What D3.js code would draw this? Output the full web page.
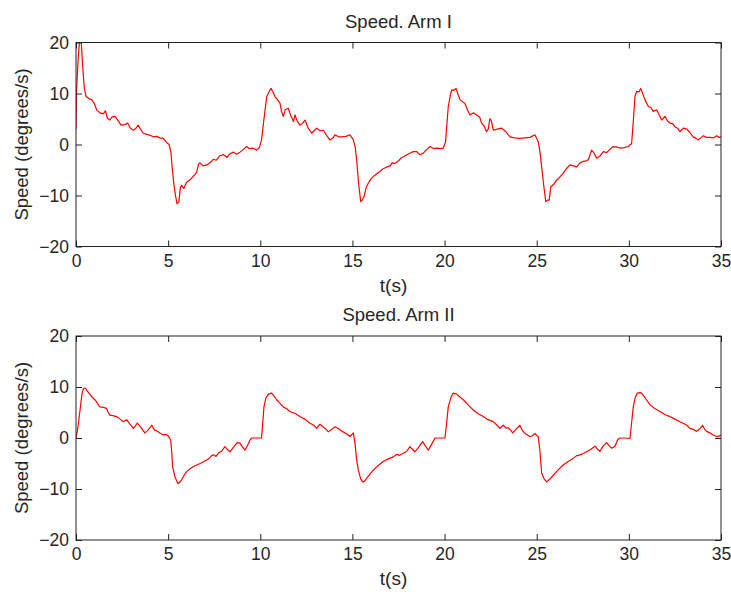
<!DOCTYPE html>
<html>
<head>
<meta charset="utf-8">
<script src="https://cdn.jsdelivr.net/npm/d3@7"></script>
<style>
  body { margin: 0; background: #fff; }
  svg { display: block; }
  text { font-family: "Liberation Sans", Arial, sans-serif; fill: #262626; }
</style>
</head>
<body>
<script>
// time (s) and speed (degrees/s)
const tArm1 = [0,0.03,0.12,0.2,0.28,0.36,0.45,0.55,0.7,0.85,1,1.12,1.3,1.48,1.6,1.7,1.84,1.95,2.12,2.3,2.45,2.66,2.8,2.95,3.11,3.25,3.38,3.5,3.65,3.85,4.02,4.2,4.38,4.55,4.74,4.92,5.05,5.15,5.22,5.3,5.4,5.48,5.58,5.66,5.73,5.85,6,6.15,6.3,6.45,6.55,6.65,6.73,6.9,7.1,7.3,7.45,7.6,7.81,8,8.2,8.36,8.55,8.7,8.9,9.1,9.26,9.4,9.6,9.8,9.95,10.07,10.2,10.35,10.5,10.58,10.7,10.8,10.95,11.07,11.15,11.25,11.35,11.52,11.65,11.8,11.88,12,12.15,12.3,12.43,12.6,12.79,12.95,13.06,13.25,13.42,13.6,13.78,13.95,14.05,14.25,14.42,14.65,14.87,15.05,15.15,15.23,15.33,15.45,15.55,15.63,15.75,15.86,16,16.13,16.3,16.49,16.65,16.86,17.05,17.15,17.31,17.5,17.65,17.76,17.95,18.12,18.3,18.49,18.65,18.85,19.05,19.21,19.4,19.57,19.75,19.93,20.05,20.2,20.32,20.39,20.5,20.62,20.75,20.84,21,21.1,21.25,21.38,21.55,21.74,21.9,22.01,22.15,22.28,22.37,22.46,22.55,22.64,22.85,23.1,23.3,23.55,23.8,24.09,24.35,24.63,24.9,25.08,25.18,25.27,25.38,25.49,25.6,25.68,25.76,25.9,26.08,26.25,26.44,26.6,26.8,27,27.17,27.35,27.53,27.7,27.8,27.98,28.1,28.25,28.45,28.61,28.8,28.95,29.15,29.35,29.52,29.75,29.97,30.15,30.25,30.33,30.42,30.55,30.64,30.75,30.87,31.05,31.2,31.32,31.5,31.65,31.78,31.96,32.1,32.23,32.38,32.5,32.65,32.77,32.95,33.15,33.3,33.49,33.65,33.77,33.9,34.04,34.2,34.4,34.6,34.76,34.9,35];
const speedArm1 = [3,10.5,17,20.8,20.5,15.5,11,9.4,9,8.8,8,6.8,6.2,6,6.6,5.2,4.8,5.4,5.5,4.6,3.8,3.9,4.2,3.2,2.8,3.2,3.8,3,2.2,2,1.8,1.5,1.6,1.3,1.2,0.4,0,-1.5,-4.5,-7.5,-10,-11.6,-11.3,-8.5,-8,-8.6,-7.4,-7,-6.5,-5.9,-5.4,-3.8,-3.6,-4.2,-4,-3.5,-2.9,-3.1,-2.2,-2,-2.5,-1.8,-1.5,-1.9,-1.5,-0.9,-0.4,-0.8,-0.7,-1.1,-0.6,0.9,5,9.4,10.5,11,10.2,9.4,8.7,8.1,6.5,5.5,6.8,7.1,5.7,4.5,5.8,4.6,3.8,4.2,4.8,3.2,2.2,2.8,3.2,2.7,2.8,1.8,0.9,1.3,1.9,1.5,1.5,1.6,1.9,0.9,-0.5,-3,-7.5,-11.2,-10.8,-10.2,-8.4,-7.6,-6.8,-6.3,-5.8,-5.3,-4.8,-4.4,-4.2,-3.6,-3.7,-3.2,-2.6,-2.4,-2,-1.7,-1.4,-1.4,-2,-1.7,-0.9,-0.4,-0.8,-0.7,-0.8,-0.7,0.5,7.4,9.8,10.7,10.6,11,9.6,8.8,8.3,8.1,6.7,5.8,6.2,5.8,5.4,4.2,3.6,2.5,3,5.1,4.5,2.8,3,3.2,2.6,1.5,1.3,1.2,1.3,1.4,1.9,0.6,-1.5,-4.4,-8,-11.2,-10.9,-10.9,-8.3,-7.9,-7,-6.4,-5.6,-4.8,-4,-4.2,-4.4,-3.6,-3.3,-3.2,-3,-1.1,-1.6,-2.7,-2.2,-1.4,-1.6,-1,-0.4,-0.5,-0.7,-0.6,-0.4,0.2,5,9.4,10.4,10.3,11,10,8.8,7.5,7.2,6.5,6.8,5.8,4.8,5.5,4.6,4.2,4.1,3.5,3.2,2.5,3.2,3,2.4,1.5,1.2,0.9,1.3,1.7,1.4,1.4,1.3,1.7,1.4,1.5];

const tArm2 = [0,0.1,0.22,0.32,0.4,0.5,0.58,0.72,0.85,1,1.12,1.22,1.3,1.48,1.66,1.75,1.84,2,2.2,2.4,2.57,2.75,2.95,3.11,3.22,3.33,3.5,3.74,3.9,4.11,4.25,4.38,4.55,4.74,4.9,5.01,5.1,5.14,5.2,5.24,5.37,5.52,5.62,5.73,5.85,6,6.2,6.37,6.55,6.73,6.9,7.09,7.25,7.35,7.45,7.6,7.75,7.9,8.08,8.2,8.36,8.55,8.75,8.9,9,9.17,9.3,9.44,9.53,9.8,10.07,10.2,10.3,10.44,10.62,10.75,10.89,11.05,11.25,11.45,11.61,11.9,12.15,12.45,12.7,12.9,13.06,13.24,13.4,13.55,13.69,13.85,14.05,14.25,14.5,14.7,14.87,15.05,15.14,15.22,15.32,15.45,15.56,15.65,15.77,15.95,16.13,16.4,16.67,16.95,17.22,17.4,17.55,17.76,17.95,18.12,18.25,18.39,18.6,18.81,18.95,19.12,19.3,19.48,19.75,20.02,20.1,20.2,20.35,20.47,20.66,20.85,21.02,21.3,21.56,21.8,22.1,22.35,22.64,22.85,23,23.18,23.32,23.45,23.6,23.7,23.9,24.09,24.2,24.36,24.5,24.63,24.75,24.9,25,25.08,25.17,25.27,25.4,25.54,25.7,25.9,26.15,26.44,26.7,26.98,27.15,27.35,27.55,27.71,27.9,28.05,28.16,28.3,28.43,28.6,28.79,28.95,29.07,29.25,29.4,29.52,29.8,30.06,30.15,30.24,30.35,30.46,30.6,30.69,30.9,31.15,31.4,31.69,31.95,32.23,32.5,32.77,33,33.15,33.31,33.5,33.68,33.85,34,34.1,34.22,34.4,34.58,34.75,34.85,35];
const speedArm2 = [0,2,5.5,8.5,9.7,9.8,9.4,8.7,8.1,7.6,7.1,6.4,6.1,6,5.8,5,4.5,4.4,4.2,3.7,3.2,3.6,2.6,1.9,2.4,2.9,2.2,1,1.5,2.5,1.6,1.4,1,0.6,0.7,0.4,-0.2,-0.4,-3,-5.6,-7.6,-8.9,-8.7,-8.2,-7.4,-6.6,-6,-5.6,-5.3,-5,-4.7,-4.3,-3.9,-3.5,-3.3,-3.6,-2.9,-2.6,-1.7,-2.2,-2.7,-1.8,-0.9,-1,-1.6,-2.4,-1.5,-0.4,0,0,0,6.1,7.8,8.6,8.8,8.2,7.5,6.9,6.1,5.7,5.2,4.8,4.2,3.6,2.9,2.5,1.9,2.7,2.2,1.8,1.2,1.6,2.2,1.8,1.2,0.8,0.3,1,-1,-4,-6.3,-8,-8.6,-8.5,-7.9,-7.1,-6.3,-5.4,-4.6,-4.1,-3.7,-3.2,-3.4,-3,-2.6,-1.7,-2.2,-2.7,-1.8,-0.7,-1.5,-2.4,-1.2,0,0,0,2.5,6.1,8,8.8,8.6,8,7.5,6.4,5.5,4.8,4.2,3.6,3.2,2.5,1.9,2.5,2,2,1.5,1,1.8,2.5,1.6,0.9,0.6,0.3,0.4,0.9,0.5,0.3,-2.4,-6.9,-8,-8.6,-8.1,-7.3,-6.3,-5.3,-4.6,-4,-3.5,-3.3,-3,-2.7,-2.3,-1.9,-1.6,-2.2,-2.6,-1.6,-0.9,-1.6,-2,-1.6,-0.3,0,0,-0.1,3,6.1,8,8.8,8.9,8.8,7.8,6.5,5.8,5.2,4.6,4.2,3.7,3.2,2.8,2.5,1.9,1.7,1.3,1.8,2.5,1.8,1.3,1,0.6,0.3,0.3,0.6];

const xTicks = [0, 5, 10, 15, 20, 25, 30, 35];
const yTicks = [-20, -10, 0, 10, 20];
const panelTitles = ['Speed. Arm I', 'Speed. Arm II'];
const xLabel = 't(s)';
const yLabel = 'Speed (degrees/s)';

const width = 731, height = 594;
const left = 76, right = 721;
const panelTops = [42.5, 336];
const panelHeight = 204;

const svg = d3.select('body').append('svg')
    .attr('width', width)
    .attr('height', height);

const x = d3.scaleLinear().domain([0, 35]).range([left, right]);

const series = [
    { t: tArm1, v: speedArm1 },
    { t: tArm2, v: speedArm2 }
];

series.forEach((s, i) => {
    const top = panelTops[i];
    const bottom = top + panelHeight;
    const y = d3.scaleLinear().domain([-20, 20]).range([bottom, top]);

    const g = svg.append('g');

    g.append('defs').append('clipPath')
        .attr('id', 'clip' + i)
        .append('rect')
        .attr('x', left).attr('y', top)
        .attr('width', right - left).attr('height', panelHeight);

    const pts = s.t.map((t, k) => [t, s.v[k]]);
    const line = d3.line().x(d => x(d[0])).y(d => y(d[1]));

    g.append('path')
        .datum(pts)
        .attr('clip-path', `url(#clip${i})`)
        .attr('fill', 'none')
        .attr('stroke', '#ff0000')
        .attr('stroke-width', 1.2)
        .attr('stroke-linejoin', 'round')
        .attr('d', line);

    // axes, ticks pointing inward on all four sides
    g.append('g')
        .attr('transform', `translate(0,${bottom})`)
        .call(d3.axisBottom(x).tickValues(xTicks).tickSizeInner(-6).tickSizeOuter(0).tickPadding(8));
    g.append('g')
        .attr('transform', `translate(0,${top})`)
        .call(d3.axisTop(x).tickValues(xTicks).tickSizeInner(-6).tickSizeOuter(0).tickFormat(''));
    g.append('g')
        .attr('transform', `translate(${left},0)`)
        .call(d3.axisLeft(y).tickValues(yTicks).tickSizeInner(-6).tickSizeOuter(0).tickPadding(7));
    g.append('g')
        .attr('transform', `translate(${right},0)`)
        .call(d3.axisRight(y).tickValues(yTicks).tickSizeInner(-6).tickSizeOuter(0).tickFormat(''));

    g.selectAll('.domain').remove();
    g.selectAll('.tick line').attr('stroke', '#222');
    g.selectAll('.tick text')
        .style('font-family', '"Liberation Sans", Arial, sans-serif')
        .style('font-size', '17.5px')
        .attr('fill', '#262626');

    g.append('rect')
        .attr('x', left).attr('y', top)
        .attr('width', right - left).attr('height', panelHeight)
        .attr('fill', 'none')
        .attr('stroke', '#222')
        .attr('stroke-width', 1);

    g.append('text')
        .attr('x', (left + right) / 2)
        .attr('y', top - 15)
        .attr('text-anchor', 'middle')
        .style('font-size', '18.5px')
        .text(panelTitles[i]);

    g.append('text')
        .attr('x', (left + right) / 2 - 5)
        .attr('y', bottom + 45)
        .attr('text-anchor', 'middle')
        .style('font-size', '19px')
        .text(xLabel);

    g.append('text')
        .attr('transform', `translate(28,${(top + bottom) / 2}) rotate(-90)`)
        .attr('text-anchor', 'middle')
        .style('font-size', '18.5px')
        .text(yLabel);
});
</script>
</body>
</html>
